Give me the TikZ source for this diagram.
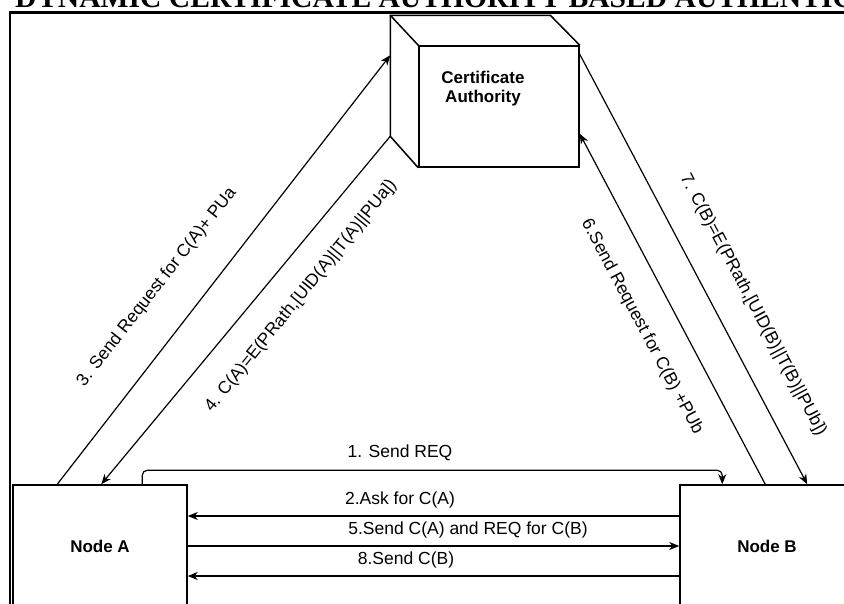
\documentclass[tikz,border=0pt]{standalone}
\usepackage{fontspec}
\setmainfont{Liberation Sans}
\newfontfamily\titlefont{Liberation Serif}
\usepackage{tikz}
\usetikzlibrary{positioning, arrows.meta, calc}

\tikzset{
  box/.style={draw, line width=1.5pt, minimum width=174pt, minimum height=122pt,
    inner sep=0pt, font=\bfseries\fontsize{17}{19}\selectfont},
  msg/.style={line width=1.2pt, -{Stealth[length=10pt,width=8pt,inset=3pt]}},
  lbl/.style={inner sep=0pt, font=\fontsize{17.5}{19}\selectfont},
}

\begin{document}
\begin{tikzpicture}[x=1pt,y=-1pt]
\useasboundingbox (0,0) rectangle (844,603);
\clip (0,0) rectangle (844,603);
% title and frame
\node[anchor=base west, inner sep=0pt, font=\titlefont\bfseries\fontsize{29.6}{32}\selectfont]
  (title) at (15,7) {DYNAMIC CERTIFICATE AUTHORITY BASED AUTHENTIC};
\draw[line width=2.6pt] (10,12.5) rectangle (900,700);

% certificate authority
\node[box, minimum width=160pt, minimum height=121pt] (ca) at (499,106.5) {};
\coordinate (caback) at ($(ca.north west)+(-28,-30)$);
\draw[line width=1.5pt, line join=round] (ca.north west) -- (caback) -- ++(160,0) -- (ca.north east);
\draw[line width=1.5pt, line join=round] (caback) -- ++(0,121) coordinate (cabot) -- (ca.south west);
\node[lbl, font=\bfseries\fontsize{17}{19}\selectfont, align=center] (catext) at (483,89) {Certificate\\Authority};
\coordinate (caleft) at ($(caback)+(0,40)$);

% nodes
\node[box] (nodeA) at (100,546) {Node A};
\node[box] (nodeB) at (767,546) {Node B};

% messages between the nodes
\draw[msg, rounded corners=5pt] ($(nodeA.north west)+(130,0)$) -- ++(0,-14) -| ($(nodeB.north west)+(43,0)$);
\node[lbl] (l1) at (400,453) {1. Send REQ};
\draw[msg] ($(nodeB.west)+(0,-30)$) -- ($(nodeA.east)+(0,-30)$);
\node[lbl] (l2) at (400,500) {2.Ask for C(A)};
\draw[msg] (nodeA.east) -- (nodeB.west);
\node[lbl] (l5) at (468,530) {5.Send C(A) and REQ for C(B)};
\draw[msg] ($(nodeB.west)+(0,30)$) -- ($(nodeA.east)+(0,30)$);
\node[lbl] (l8) at (406,560) {8.Send C(B)};

% messages with the authority
\draw[msg] ($(nodeA.north west)+(45,0)$) -- (caleft);
\draw[msg] (cabot) -- ($(nodeA.north west)+(89,0)$);
\draw[msg] ($(nodeB.north west)+(86,0)$) -- ($(ca.south east)+(0,-34)$);
\draw[msg] ($(ca.north east)+(0,9)$) -- ($(nodeB.north west)+(128,0)$);
\node[lbl, rotate=52] (l3) at (157,287) {3. Send Request for C(A)+ PUa};
\node[lbl, rotate=51] (l4) at (301,296) {4. C(A)=E(PRath,[UID(A)||T(A)||PUa])};
\node[lbl, rotate=-62] (l6) at (642,327) {6.Send Request for C(B) +PUb};
\node[lbl, rotate=-62] (l7) at (753,305) {7. C(B)=E(PRath,[UID(B)||T(B)||PUb])};
\end{tikzpicture}
\end{document}
